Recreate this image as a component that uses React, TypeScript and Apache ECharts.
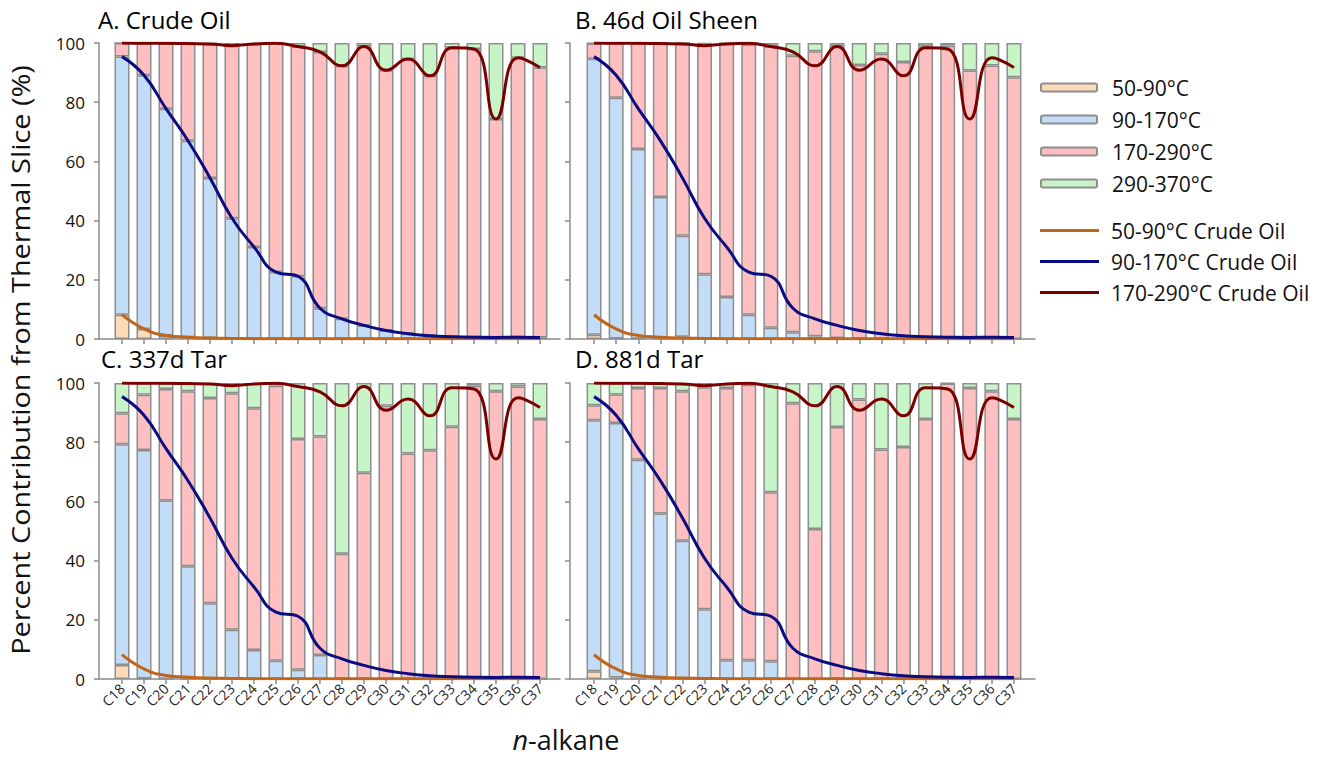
import React, { useEffect, useRef } from 'react';
import * as echarts from 'echarts';

const categories = ['C18','C19','C20','C21','C22','C23','C24','C25','C26','C27','C28','C29','C30','C31','C32','C33','C34','C35','C36','C37'];

const sliceNames = ['50-90°C', '90-170°C', '170-290°C', '290-370°C'];
const lineNames = ['50-90°C Crude Oil', '90-170°C Crude Oil', '170-290°C Crude Oil'];
const yTicks = [0, 20, 40, 60, 80, 100];

// A. Crude Oil
const a50 = [8.2,3.4,1.2,0.6,0.3,0.2,0.1,0.1,0.1,0.1,0.1,0.1,0.1,0.1,0.1,0.1,0.1,0.1,0.1,0.1];
const a90 = [87.2,85.7,76.6,66.4,54.1,40.6,31.0,22.5,21.1,10.3,6.7,4.5,2.8,1.7,1.0,0.7,0.5,0.4,0.5,0.4];
const a170 = [4.6,10.8,22.1,32.8,45.3,58.3,68.6,77.3,77.6,86.6,85.5,94.2,87.9,92.8,87.8,97.6,97.4,73.8,94.4,91.2];
const a290 = [0,0.1,0.1,0.2,0.3,0.9,0.3,0.1,1.2,3.0,7.7,1.2,9.2,5.4,11.1,1.6,2.0,25.7,5.0,8.3];

// B. 46d Oil Sheen
const b50 = [1.4,0.2,0.1,0.1,0.8,0,0,0,0,0,0,0,0,0,0,0,0,0,0,0];
const b90 = [93.3,81.3,64.1,47.9,34.1,21.9,14.2,8.2,3.8,2.3,0.9,0.3,0.2,0.1,0,0,0,0,0,0];
const b170 = [5.1,18.5,35.8,52.0,65.1,77.8,85.8,91.3,95.1,93.4,96.3,99.1,92.4,96.3,93.6,98.9,99.1,90.7,92.4,88.4];
const b290 = [0.2,0,0,0,0,0.3,0,0.5,1.1,4.3,2.8,0.6,7.4,3.6,6.4,1.1,0.9,9.3,7.6,11.6];

// C. 337d Tar
const c50 = [4.7,0.2,0,0,0,0,0,0,0,0,0,0,0,0,0,0,0,0,0,0];
const c90 = [74.6,77.2,60.3,38.1,25.6,16.6,9.8,6.2,3.1,8.1,0,0,0,0,0,0,0,0,0,0];
const c170 = [10.5,18.6,37.7,59.1,69.3,79.9,81.7,92.9,78.0,73.8,42.3,69.7,92.3,76.2,77.3,85.2,99.1,97.2,98.8,87.8];
const c290 = [10.2,4.0,2.0,2.8,5.1,3.5,8.5,0.9,18.9,18.1,57.7,30.3,7.7,23.8,22.7,14.8,0.9,2.8,1.2,12.2];

// D. 881d Tar
const d50 = [2.6,0.5,0,0,0,0,0,0,0,0,0,0,0,0,0,0,0,0,0,0];
const d90 = [84.8,86.0,74.1,55.9,46.7,23.6,6.3,6.3,6.0,0,0,0,0,0,0,0,0,0,0,0];
const d170 = [5.1,9.6,24.2,42.4,50.5,75.0,92.0,93.1,57.1,93.2,50.7,85.1,94.4,77.5,78.4,87.8,99.8,98.3,97.2,87.8];
const d290 = [7.5,3.9,1.7,1.7,2.8,1.4,1.7,0.6,36.9,6.8,49.3,14.9,5.6,22.5,21.6,12.2,0.2,1.7,2.8,12.2];

// Crude oil reference lines (cumulative of panel A)
const crude50 = a50.map((v) => v);
const crude90 = a50.map((v, i) => +(v + a90[i]).toFixed(1));
const crude170 = a50.map((v, i) => +(v + a90[i] + a170[i]).toFixed(1));

const FONT = '"Open Sans", "Noto Sans", sans-serif';
const AXIS = '#8c8c8c';
const BAR_BORDER = '#8e8e8e';
const barColors = ['#FDDBB9', '#C3DDF9', '#FDBFBF', '#C8F5C8'];
const lineColors = ['#C0661C', '#0C0C82', '#7A0000'];

const panels = [
  { title: 'A. Crude Oil', data: [a50, a90, a170, a290], fl: 99, fw: 461, dl: 111, dw: 440, top: 43, tx: 98, ty: 7, showY: true, showX: false },
  { title: 'B. 46d Oil Sheen', data: [b50, b90, b170, b290], fl: 570, fw: 465, dl: 583, dw: 442, top: 43, tx: 575, ty: 7, showY: false, showX: false },
  { title: 'C. 337d Tar', data: [c50, c90, c170, c290], fl: 99, fw: 461, dl: 111, dw: 440, top: 383, tx: 101, ty: 346, showY: true, showX: true },
  { title: 'D. 881d Tar', data: [d50, d90, d170, d290], fl: 570, fw: 465, dl: 583, dw: 442, top: 383, tx: 575, ty: 346, showY: false, showX: true },
];
const H = 296;

export default function App() {
  const ref = useRef<HTMLDivElement>(null);
  useEffect(() => {
    document.body.style.margin = '0';
    document.body.style.overflow = 'hidden';
    const chart = echarts.init(ref.current!, null, { renderer: 'svg' });
    const grid: any[] = [];
    const xAxis: any[] = [];
    const yAxis: any[] = [];
    const series: any[] = [];
    const title: any[] = [];
    const crude = [crude50, crude90, crude170];
    panels.forEach((p, i) => {
      const fi = 2 * i;
      const di = 2 * i + 1;
      grid.push({ left: p.fl, top: p.top, width: p.fw, height: H });
      grid.push({ left: p.dl, top: p.top, width: p.dw, height: H });
      xAxis.push({
        type: 'value', gridIndex: fi, min: 0, max: 1,
        axisLine: { show: true, lineStyle: { color: AXIS, width: 1.5 } },
        axisTick: { show: false }, axisLabel: { show: false }, splitLine: { show: false },
      });
      yAxis.push({
        type: 'value', gridIndex: fi, min: 0, max: 100, interval: 20,
        axisLine: { show: true, lineStyle: { color: AXIS, width: 1.5 } },
        axisTick: { show: true, length: 5, lineStyle: { color: AXIS, width: 1.5 } },
        axisLabel: {
          show: p.showY, fontSize: 17, color: '#111', margin: 14, fontFamily: FONT,
          formatter: (v: number) => (yTicks.includes(v) ? String(v) : ''),
        },
        splitLine: { show: false },
      });
      xAxis.push({
        type: 'category', gridIndex: di, data: categories, boundaryGap: true,
        axisLine: { show: false },
        axisTick: { show: true, alignWithLabel: true, interval: 0, length: 5, lineStyle: { color: AXIS, width: 1.5 } },
        axisLabel: { show: p.showX, rotate: 45, interval: 0, fontSize: 14, color: '#222', margin: 7, fontFamily: FONT },
      });
      yAxis.push({ type: 'value', gridIndex: di, min: 0, max: 100, show: false });
      p.data.forEach((arr, k) => {
        series.push({
          type: 'bar', name: sliceNames[k], xAxisIndex: di, yAxisIndex: di, stack: 'p' + i,
          barWidth: 15, data: arr,
          itemStyle: { color: barColors[k], borderColor: BAR_BORDER, borderWidth: 1.5 },
        });
      });
      crude.forEach((arr, k) => {
        series.push({
          type: 'line', name: lineNames[k], xAxisIndex: di, yAxisIndex: di, data: arr,
          smooth: 0.5, symbol: 'none', showSymbol: false, z: 5,
          lineStyle: { color: lineColors[k], width: 3 },
          itemStyle: { color: lineColors[k] },
        });
      });
      title.push({
        text: p.title, left: p.tx, top: p.ty, padding: 0,
        textStyle: { fontSize: 24, fontWeight: 'normal', color: '#000', fontFamily: FONT },
      });
    });

    chart.setOption({
      animation: false,
      backgroundColor: '#fff',
      title,
      grid, xAxis, yAxis, series,
      legend: [
        {
          data: sliceNames, orient: 'vertical', left: 1040, top: 77, padding: 0,
          itemWidth: 56, itemHeight: 8, itemGap: 11, selectedMode: false,
          textStyle: { fontSize: 21, color: '#111', fontFamily: FONT, padding: [0, 0, 0, 10] },
        },
        {
          data: lineNames.map((n, k) => ({ name: n, icon: 'rect', itemStyle: { color: lineColors[k] } })),
          orient: 'vertical', left: 1040, top: 220, padding: 0,
          itemWidth: 59, itemHeight: 3, itemGap: 10, selectedMode: false,
          textStyle: { fontSize: 21, color: '#111', fontFamily: FONT, padding: [0, 0, 0, 7] },
        },
      ],
      graphic: [
        {
          type: 'text', x: 20, y: 360, rotation: Math.PI / 2, scaleX: 1.11,
          style: {
            text: 'Percent Contribution from Thermal Slice (%)', fill: '#111',
            font: `26px ${FONT}`, align: 'center', verticalAlign: 'middle',
          },
        },
        {
          type: 'text', x: 566, y: 739,
          style: {
            text: '{i|n}-alkane', fill: '#111', font: `27px ${FONT}`,
            align: 'center', verticalAlign: 'middle',
            rich: { i: { fontStyle: 'italic', fontSize: 27, fontFamily: FONT } },
          },
        },
      ],
    });
    return () => chart.dispose();
  }, []);
  return <div ref={ref} style={{ width: 1321, height: 758 }} />;
}
